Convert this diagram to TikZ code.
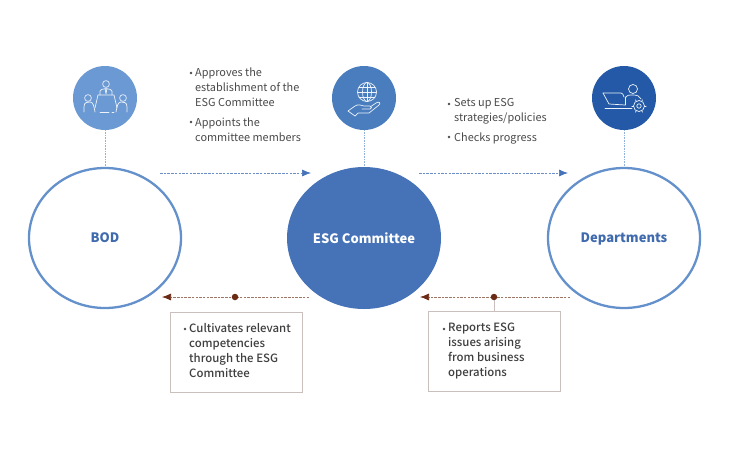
\documentclass[tikz,border=0pt]{standalone}
\usepackage{fontspec}
\setmainfont{Noto Sans CJK KR}
\newfontfamily\medfont{Noto Sans CJK KR Medium}
\usetikzlibrary{shapes.geometric,arrows.meta}
\definecolor{ringblue}{HTML}{6491CC}
\definecolor{solidblue}{HTML}{4672B8}
\definecolor{titleblue}{HTML}{3F6AAE}
\definecolor{iconA}{HTML}{6A99D3}
\definecolor{iconB}{HTML}{4A7DBD}
\definecolor{iconC}{HTML}{2359A6}
\definecolor{darkred}{HTML}{6B2A14}
\definecolor{txt}{HTML}{4A4A4A}
\definecolor{boxline}{HTML}{C9BFBC}
\tikzset{
  x=1pt,y=-1pt,
  bigring/.style={ellipse,draw=ringblue,line width=2.3pt,fill=white,minimum width=152pt,minimum height=140pt,inner sep=0pt,font=\fontsize{13}{14}\selectfont\bfseries,text=titleblue,text depth=0pt},
  bigsolid/.style={ellipse,fill=solidblue,minimum width=154pt,minimum height=142pt,inner sep=0pt,font=\fontsize{13}{14}\selectfont\bfseries,text=white,text depth=0pt},
  iconcircle/.style={circle,minimum size=64pt,inner sep=0pt},
  stem/.style={draw=ringblue!70,line width=.6pt,densely dotted},
  flowblue/.style={draw=solidblue!80,line width=.7pt,dash pattern=on 2.5pt off 1.2pt,-{Latex[length=9pt,width=7pt,color=solidblue]}},
  flowred/.style={draw=darkred!65,line width=.7pt,dash pattern=on 2.5pt off 1.2pt,-{Latex[length=9pt,width=7pt,color=darkred]}},
  tiny dot/.style={circle,fill=darkred,minimum size=6.5pt,inner sep=0pt},
  notebox/.style={draw=boxline,line width=.9pt,fill=white,minimum width=132pt,minimum height=80pt,inner sep=0pt},
  note/.style={font=\fontsize{10.9}{15}\selectfont,text=txt,align=left,anchor=north west,inner sep=0pt},
  notebold/.style={font=\medfont\fontsize{11.4}{15}\selectfont,text=txt!85!black,align=left,anchor=north west,inner sep=0pt},
  bul/.style={circle,fill=txt,minimum size=2.8pt,inner sep=0pt},
  icn/.style={draw=white!88!iconA,line width=.7pt,line cap=round,line join=round}
}
\begin{document}
\begin{tikzpicture}
\useasboundingbox (0,0) rectangle (730,450);
\node[iconcircle,fill=iconA] (i1) at (105,98) {};
\node[iconcircle,fill=iconB] (i2) at (364,98) {};
\node[iconcircle,fill=iconC] (i3) at (624,98) {};
\node[bigring] (bod) at (105,238) {BOD};
\node[bigsolid] (esg) at (364,238) {ESG Committee};
\node[bigring] (dep) at (624,238) {Departments};
\draw[stem] (i1) -- (bod);
\draw[stem] (i2) -- (esg);
\draw[stem] (i3) -- (dep);
\coordinate (a1) at (160,173); \coordinate (a2) at (311,173);
\coordinate (b1) at (419,173); \coordinate (b2) at (568,173);
\coordinate (c1) at (309,297); \coordinate (c2) at (162,297);
\coordinate (d1) at (570,297); \coordinate (d2) at (420,297);
\draw[flowblue] (a1) -- (a2);
\draw[flowblue] (b1) -- (b2);
\draw[flowred] (c1) -- (c2);
\draw[flowred] (d1) -- (d2);
\node[notebox] (n1) at (236,352) {};
\node[notebox] (n2) at (494,351) {};
\node[tiny dot] (dot1) at (235,297) {};
\node[tiny dot] (dot2) at (494,297) {};
\draw[boxline,line width=1pt] (dot2) -- (n2.north);
\node[bul] (u1) at (191,73) {};
\node[note] (t1) at (195,68) {Approves the\\establishment of the\\ESG Committee};
\node[bul] (u2) at (191,122) {};
\node[note] (t2) at (195,118) {Appoints the\\committee members};
\node[bul] (u3) at (449,104) {};
\node[note] (t3) at (454,98) {Sets up ESG\\strategies/policies};
\node[bul] (u4) at (449,137) {};
\node[note] (t4) at (454,133) {Checks progress};
\node[bul] (u5) at (185,329) {};
\node[notebold] (t5) at (189,323) {Cultivates relevant\\competencies\\through the ESG\\Committee};
\node[bul] (u6) at (444,329) {};
\node[notebold] (t6) at (448,323) {Reports ESG\\issues arising\\from business\\operations};
\begin{scope}[shift={(105,98)}]
 \draw[icn] (-21,14) -- (-21,9) .. controls (-21,4) and (-18,4) .. (-15,4) .. controls (-12,4) and (-11,8) .. (-10,14);
 \draw[icn] (-17,0) circle (3.4);
 \draw[icn] (22,14) -- (22,9) .. controls (22,4) and (19,4) .. (16,4) .. controls (13,4) and (12,8) .. (11,14);
 \draw[icn] (18,0) circle (3.4);
 \draw[icn] (1,-14) circle (3.4);
 \draw[icn] (-5,-3) -- (-5,-7) .. controls (-5,-10) and (7,-10) .. (7,-7) -- (7,-3);
 \draw[icn] (0,-10) -- (1,-4) -- (2,-10);
 \draw[icn] (-7,-3) -- (9,-3) -- (12,10);
 \draw[icn] (-7,-3) -- (-10,10);
 \draw[icn] (-5,14) -- (4,14);
 \draw[icn] (7,14) -- (9,14);
\end{scope}
\begin{scope}[shift={(364,98)}]
 \draw[icn] (3,-6) circle (9.5);
 \draw[icn] (3,-6) ellipse (4.5 and 9.5);
 \draw[icn] (3,-15.5) -- (3,3.5);
 \draw[icn] (-6.5,-6) -- (12.5,-6);
 \draw[icn] (-5,-11) -- (11,-11);
 \draw[icn] (-5,-1) -- (11,-1);
 \draw[icn] (-16,13) -- (-9,8) .. controls (-6,6) and (-3,7) .. (0,8) -- (6,8) .. controls (8,8) and (8,11) .. (6,11) -- (-2,11);
 \draw[icn] (6,9) -- (12,5) .. controls (15,3) and (17,5) .. (15,7) -- (5,15) -- (-6,15) -- (-9,18) -- (-16,13);
\end{scope}
\begin{scope}[shift={(624,98)}]
 \draw[icn] (-21,-5) -- (-3,-5) .. controls (-1,-5) and (-1,-3) .. (0,-1);
 \draw[icn] (-21,-5) -- (-15,6) -- (1,7);
 \draw[icn] (1,7) -- (1,-1);
 \draw[icn] (-19,10) -- (8,10);
 \draw[icn] (9,-9) circle (4.5);
 \draw[icn] (1,0) .. controls (2,-3) and (5,-3) .. (9,-3) .. controls (13,-3) and (16,-2) .. (17,1);
 \draw[icn] (15,8) circle (5.5);
 \draw[icn] (15,8) circle (2.2);
 \foreach \a in {0,60,...,300}{\draw[icn] (15,8) ++(\a:5.5) -- ++(\a:1.6);}
\end{scope}
\end{tikzpicture}
\end{document}
